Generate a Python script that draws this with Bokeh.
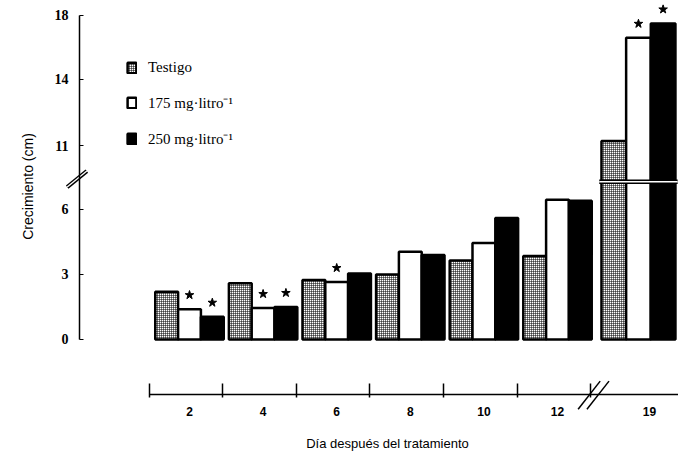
import numpy as np
from bokeh.plotting import figure
from bokeh.models import Range1d, FixedTicker, Legend, LegendItem
from bokeh.core.properties import value
from bokeh.embed import file_html
from bokeh.resources import INLINE

# ---------------- data ----------------
days = ["2", "4", "6", "8", "10", "12", "19"]
testigo = [2.2, 2.6, 2.75, 3.0, 3.65, 3.85, 11.2]
mg175 = [1.4, 1.45, 2.65, 4.05, 4.45, 6.45, 16.6]
mg250 = [1.05, 1.5, 3.05, 3.9, 5.6, 6.4, 17.5]
sig175 = [1, 1, 1, 0, 0, 0, 1]
sig250 = [1, 1, 0, 0, 0, 0, 1]
y_tick_values = [0, 3, 6, 11, 14, 18]
series_names = ["Testigo", "175 mg\u00b7litro\u207b\u00b9", "250 mg\u00b7litro\u207b\u00b9"]
x_title = "D\u00eda despu\u00e9s del tratamiento"
y_title = "Crecimiento (cm)"

# ---------------- broken y scale ----------------
UP_V = [11, 14, 18]
UP_D = [8.95, 12.0, 14.95]


def disp(v):
    v = np.asarray(v, dtype=float)
    return np.where(v <= 7.5, v, np.interp(v, UP_V, UP_D))


n = len(days)
x = np.arange(n, dtype=float)
x[-1] += 0.1                      # gap after the x-axis break
w = np.where(np.array(days) == "19", 0.335, 0.31)

X0, X1 = -1.495, 6.644            # where the axes sit
Y0 = -2.54
p = figure(width=678, height=453, output_backend="svg", toolbar_location=None,
           x_range=Range1d(-2.568, X1), y_range=Range1d(-5.26, 15.64),
           min_border_left=0, min_border_right=0, min_border_top=0,
           min_border_bottom=0)
p.outline_line_color = None
p.grid.visible = False
p.background_fill_color = "white"

common = dict(line_color="black", line_width=2.5)
r_t = p.vbar(x=x - w, top=disp(testigo), bottom=0, width=w, fill_color="white",
             hatch_pattern="+", hatch_scale=2, hatch_weight=1, hatch_color="black", **common)
r_a = p.vbar(x=x, top=disp(mg175), bottom=0, width=w, fill_color="white", **common)
r_b = p.vbar(x=x + w, top=disp(mg250), bottom=0, width=w, fill_color="black", **common)

# significance stars
s175 = np.array(sig175, bool)
s250 = np.array(sig250, bool)
p.scatter(x[s175], disp(mg175)[s175] + 0.65, marker="star", size=9, color="black")
p.scatter((x + w)[s250], disp(mg250)[s250] + 0.65, marker="star", size=9, color="black")

# break across day-19 bars
xb0 = x[-1] - 1.5 * w[-1] - 0.03
xb1 = x[-1] + 1.5 * w[-1] + 0.03
p.segment(x0=[xb0], y0=[7.28], x1=[xb1], y1=[7.28], line_color="black", line_width=4.5)
p.segment(x0=[xb0], y0=[7.28], x1=[xb1], y1=[7.28], line_color="white", line_width=1.5)

# ---------------- y axis ----------------
ya = p.yaxis[0]
ya.fixed_location = X0
ticks = [float(np.round(disp(v), 2)) for v in y_tick_values]
ya.ticker = FixedTicker(ticks=ticks, minor_ticks=[])
ya.major_label_overrides = {t: str(v) for t, v in zip(ticks, y_tick_values)}
ya.bounds = (0, ticks[-1])
ya.axis_line_color = "black"
ya.axis_line_width = 1.5
ya.major_tick_in = 4
ya.major_tick_out = 0
ya.major_tick_line_color = "black"
ya.major_label_standoff = 11
ya.major_label_text_font = "Liberation Serif"
ya.major_label_text_font_style = "bold"
ya.major_label_text_font_size = "14px"
ya.major_label_text_color = "black"

# ---------------- x axis ----------------
xa = p.xaxis[0]
xa.fixed_location = Y0
label_ticks = x.copy()
label_ticks[-1] += 0.15
sep = np.arange(n, dtype=float) - 0.55
xa.ticker = FixedTicker(ticks=list(label_ticks), minor_ticks=list(sep))
xa.major_label_overrides = {float(t): d for t, d in zip(label_ticks, days)}
xa.bounds = (sep[0], X1)
xa.axis_line_color = "black"
xa.axis_line_width = 1.5
xa.major_tick_line_color = None
xa.major_tick_out = 0
xa.major_tick_in = 0
xa.minor_tick_line_color = "black"
xa.minor_tick_line_width = 1.5
xa.minor_tick_in = 11
xa.minor_tick_out = 3
xa.major_label_standoff = 9
xa.major_label_text_font = "Liberation Sans"
xa.major_label_text_font_style = "bold"
xa.major_label_text_font_size = "12px"
xa.major_label_text_color = "black"

# axis titles
p.text(x=[2.69], y=[-4.79], text=[x_title], text_font=value("Liberation Sans"),
       text_font_size="13px", text_align="center", text_baseline="middle", text_color="black")
p.text(x=[-2.20], y=[7.06], text=[y_title], angle=np.pi / 2, text_font=value("Liberation Sans"),
       text_font_size="14px", text_align="center", text_baseline="middle", text_color="black")

# ---------------- break marks ----------------
# y axis
for lw, col in [(4.0, "black"), (1.3, "white")]:
    p.segment(x0=[X0 - 0.167], y0=[7.03], x1=[X0 + 0.10], y1=[7.77], line_color=col, line_width=lw)
# x axis
xbk = sep[-1]
offs = np.array([-0.02, 0.1])
p.segment(x0=xbk + offs - 0.15, y0=[Y0 - 0.68] * 2, x1=xbk + offs + 0.15, y1=[Y0 + 0.62] * 2,
          line_color="black", line_width=1.5)

# ---------------- legend ----------------
legend = Legend(items=[LegendItem(label=series_names[0], renderers=[r_t]),
                       LegendItem(label=series_names[1], renderers=[r_a]),
                       LegendItem(label=series_names[2], renderers=[r_b])],
                location=(126, 305), orientation="vertical",
                glyph_width=11, glyph_height=13, label_standoff=11,
                label_height=13, spacing=16, padding=0, margin=0,
                border_line_color=None, background_fill_alpha=0,
                label_text_font="Liberation Serif", label_text_font_size="15px",
                label_text_color="black")
p.add_layout(legend, "center")

open("out.html", "w").write(file_html(p, INLINE))
